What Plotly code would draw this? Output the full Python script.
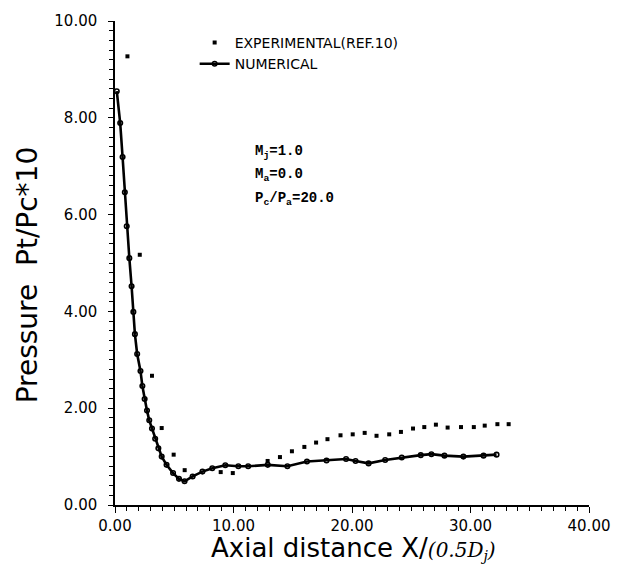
import plotly.graph_objects as go

# ---- data ----
num_x = [0.15, 0.44, 0.64, 0.83, 0.99, 1.21, 1.40, 1.55, 1.68, 1.87, 2.15, 2.31, 2.50, 2.70,
         2.89, 3.12, 3.39, 3.66, 3.94, 4.35, 4.90, 5.40, 5.87, 6.55, 7.38, 8.21, 9.31, 10.41,
         11.24, 12.89, 14.55, 16.2, 17.85, 19.5, 20.3, 21.4, 22.8, 24.2, 25.8, 26.7, 27.8,
         29.4, 31.1, 32.2]
num_y = [8.55, 7.89, 7.19, 6.46, 5.76, 5.10, 4.52, 3.99, 3.53, 3.12, 2.77, 2.46, 2.19, 1.95,
         1.75, 1.58, 1.37, 1.17, 1.00, 0.83, 0.66, 0.54, 0.49, 0.59, 0.69, 0.76, 0.82, 0.80,
         0.80, 0.83, 0.80, 0.90, 0.92, 0.95, 0.91, 0.86, 0.93, 0.98, 1.03, 1.05, 1.02,
         1.00, 1.02, 1.04]

exp_x = [1.05, 2.09, 3.12, 3.94, 4.95, 5.88, 8.92, 9.94, 12.88, 13.92, 14.93, 15.98, 16.97,
         17.93, 19.03, 20.06, 21.07, 22.07, 23.14, 24.13, 25.15, 26.1, 27.08, 28.07, 29.2,
         30.28, 31.2, 32.27, 33.22]
exp_y = [9.27, 5.17, 2.67, 1.59, 1.04, 0.72, 0.68, 0.66, 0.91, 0.99, 1.11, 1.20, 1.29,
         1.36, 1.44, 1.46, 1.49, 1.43, 1.46, 1.51, 1.58, 1.61, 1.66, 1.60, 1.61,
         1.61, 1.64, 1.67, 1.67]

x_ticks = [0, 10, 20, 30, 40]
y_ticks = [0, 2, 4, 6, 8, 10]

params = ["M<sub>j</sub>=1.0", "M<sub>a</sub>=0.0", "P<sub>c</sub>/P<sub>a</sub>=20.0"]

W, H = 622, 570
L, R, T, B = 115, 25, 15, 65
pw, ph = W - L - R, H - T - B


def px(xp):
    return (xp - L) / pw


def py(yp):
    return (H - B - yp) / ph


fig = go.Figure()
fig.add_trace(go.Scatter(
    x=exp_x, y=exp_y, mode="markers", name="EXPERIMENTAL(REF.10)",
    marker=dict(symbol="square", size=4, color="black"),
))
fig.add_trace(go.Scatter(
    x=num_x, y=num_y, mode="lines+markers", name="NUMERICAL",
    line=dict(color="black", width=2.6),
    marker=dict(symbol="circle-open", size=4.5, color="black", line=dict(width=1.6)),
))

tickfont = dict(family="DejaVu Sans", size=15, color="black")

fig.update_xaxes(
    range=[0, 40], tickvals=x_ticks, tickformat=".2f", showgrid=False, zeroline=False,
    showline=True, linecolor="black", linewidth=1.5,
    ticks="outside", ticklen=6, tickwidth=1.2, tickcolor="black", tickfont=tickfont,
    minor=dict(dtick=1, ticks="outside", ticklen=4, tickwidth=1, tickcolor="black", showgrid=False),
)
fig.update_yaxes(
    range=[0, 10], tickvals=y_ticks, tickformat=".2f", showgrid=False, zeroline=False,
    showline=True, linecolor="black", linewidth=1.5,
    ticks="outside", ticklen=5, tickwidth=1.2, tickcolor="black", tickfont=tickfont,
    ticklabelstandoff=8,
    minor=dict(dtick=0.2, ticks="outside", ticklen=4, tickwidth=1, tickcolor="black", showgrid=False),
)

annotations = []
# axis titles
annotations.append(dict(
    text="Pressure  Pt/Pc*10", xref="paper", yref="paper", x=px(26), y=py(272),
    textangle=-90, showarrow=False, xanchor="center", yanchor="middle",
    font=dict(family="DejaVu Sans", size=28, color="black"),
))
annotations.append(dict(
    text="Axial distance X/<span style='font-family:DejaVu Serif;font-style:italic;font-size:20px'>(0.5D<sub>j</sub>)</span>",
    xref="paper", yref="paper", x=px(358), y=py(549),
    showarrow=False, xanchor="center", yanchor="middle",
    font=dict(family="DejaVu Sans", size=26, color="black"),
))
for i, (t, yy) in enumerate(zip(params, [148, 171, 195])):
    annotations.append(dict(
        text=t, xref="paper", yref="paper", x=px(255), y=py(yy),
        showarrow=False, xanchor="left", yanchor="middle",
        font=dict(family="Liberation Mono", size=14, color="black", weight="bold"),
    ))

fig.update_layout(
    width=W, height=H, margin=dict(l=L, r=R, t=T, b=B),
    paper_bgcolor="white", plot_bgcolor="white",
    annotations=annotations,
    showlegend=True,
    legend=dict(
        x=px(196), y=py(21), xanchor="left", yanchor="top",
        bgcolor="rgba(0,0,0,0)", borderwidth=0,
        font=dict(family="DejaVu Sans", size=14, color="black"),
        itemwidth=30, tracegroupgap=0,
    ),
)

fig.write_html("out.html")
